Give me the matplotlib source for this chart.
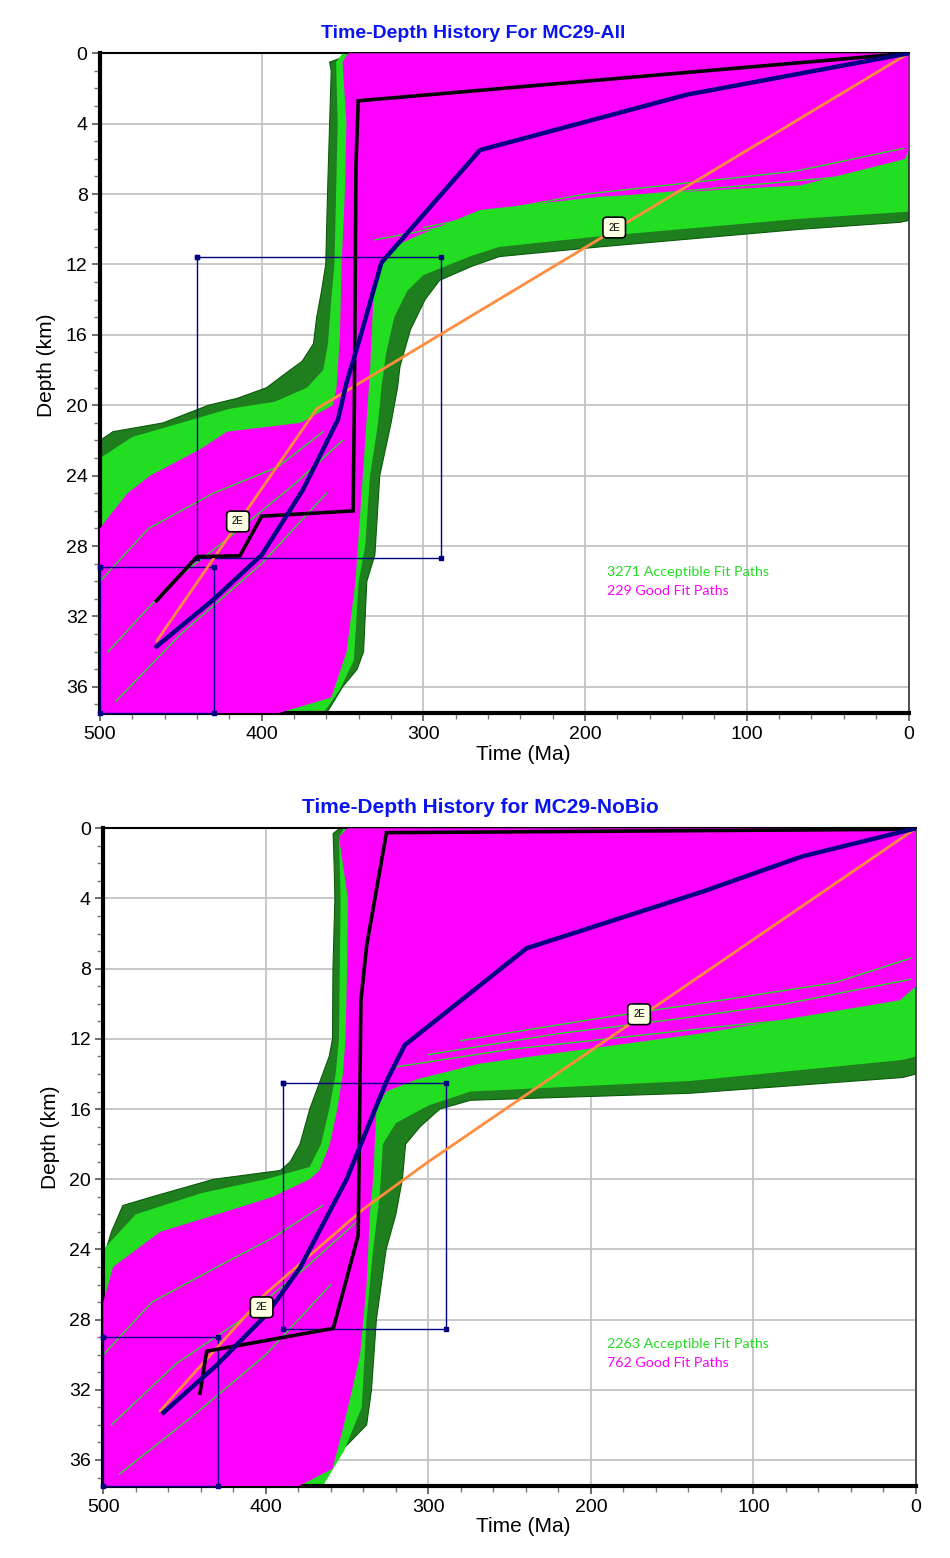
import matplotlib
matplotlib.use("Agg")
import matplotlib.pyplot as plt
from matplotlib.patches import Polygon

# Time-depth history plots for MC29 (All / NoBio)
# values, time in Ma, depth in km

# ---- panel 1: MC29-All ----
all_acc_t = [0, 347, 352, 358, 357, 358, 359.3, 360.4, 363, 366, 368, 375, 382.5, 397, 415, 433, 461, 492, 500,
             500, 360, 356.6, 350, 341, 337, 335, 330, 327, 320, 316, 314.5, 308, 299, 290, 270, 253, 191, 129, 67, 5, 0]
all_acc_d = [0, 0, 0.3, 0.5, 1.0, 4, 8, 12, 13.5, 15, 16.5, 17.5, 18, 19, 19.6, 20, 21, 21.5, 22,
             37.5, 37.5, 37, 36, 35, 34, 30, 28.5, 24, 21, 19, 17.8, 15.7, 14, 12.9, 12.1, 11.55, 11.0, 10.5, 10.0, 9.6, 9.5]

all_mid_t = [0, 350, 354, 353, 354, 355, 357, 359, 362, 372, 392, 420, 450, 480, 500,
             500, 362, 352, 343, 340, 336, 333, 328, 326, 323, 318, 310, 300, 270, 253, 191, 129, 67, 0]
all_mid_d = [0, 0, 0.5, 4, 8, 12, 14, 16.5, 18, 19, 19.8, 20.2, 21, 21.8, 23,
             37.5, 37.5, 36.2, 34.5, 30, 28, 24, 21, 19, 17, 15, 13.5, 12.6, 11.5, 11.0, 10.4, 9.9, 9.4, 9.0]

all_good_t = [0, 346.5, 350, 347.6, 348.6, 350.6, 351.6, 353.7, 356, 376, 421.5, 438, 469, 483, 496, 500,
              500, 390, 357, 347.5, 342, 339, 336, 333, 331, 327, 319, 302, 265, 191, 67, 2, 0]
all_good_d = [0, 0, 0.5, 4, 8, 12, 16, 19, 20, 21, 21.5, 22.5, 24, 25, 26.5, 27,
              37.5, 37.5, 36.6, 34, 30, 26, 22, 18, 14, 12, 11, 10.3, 8.9, 8.15, 7.5, 6.0, 5.5]

# single acceptable paths that show through the good-fit fill
all_streaks = [
    ([330, 255, 190, 130, 65, 3], [10.6, 9.3, 8.7, 8.3, 7.9, 7.2]),
    ([300, 230, 160, 100, 40, 3], [9.9, 8.6, 8.0, 7.5, 7.0, 6.3]),
    ([270, 200, 130, 70, 3], [9.2, 8.0, 7.3, 6.7, 5.4]),
    ([500, 470, 430, 390, 362], [30, 27, 25, 23.5, 21.5]),
    ([495, 455, 420, 380, 350], [34, 30, 27.5, 24.5, 22]),
    ([490, 450, 400, 360], [36.8, 33, 29, 25]),
]

all_black_t = [0, 340.3, 341.7, 342.7, 343.5, 400, 413.5, 440, 465]
all_black_d = [0, 2.7, 6.3, 20, 26.0, 26.3, 28.55, 28.6, 31.1]

all_blue_t = [0, 137, 265, 326, 339, 347.5, 352.8, 374.5, 400, 430, 465]
all_blue_d = [0, 2.35, 5.5, 11.9, 16.1, 18.7, 20.8, 24.8, 28.5, 31.05, 33.7]

all_orange_t = [0, 366, 465]
all_orange_d = [0, 20.2, 33.4]

all_boxes = [(289, 440, 11.6, 28.7), (429.5, 500, 29.2, 37.5)]
all_tags = [(182, 9.9), (414.7, 26.6)]
all_counts = ("3271 Acceptible Fit Paths", "229 Good Fit Paths")

# ---- panel 2: MC29-NoBio ----
nob_acc_t = [0, 354.5, 358.6, 358, 357.5, 358.7, 359, 361, 365, 369, 373, 379, 385, 391, 432, 470, 488, 495, 500,
             500, 373, 359, 338, 335, 332, 326, 320, 316, 314, 305, 293, 274, 139, 8, 0]
nob_acc_d = [0, 0, 0.3, 2, 4, 8, 12, 13, 14, 15, 16, 18, 19, 19.5, 20, 21, 21.5, 23, 24.5,
             37.5, 37.5, 36, 34, 32, 28, 24, 22, 20, 18, 17, 16, 15.5, 15.1, 14.2, 14.0]

nob_mid_t = [0, 352, 355, 354, 354.5, 355, 357, 361, 366, 373, 400, 440, 480, 500,
             500, 365, 352, 341, 338, 334, 330, 328, 320, 300, 274, 139, 8, 0]
nob_mid_d = [0, 0, 0.5, 4, 8, 12, 14, 16, 18, 19.3, 20, 20.8, 22, 24,
             37.5, 37.5, 35.5, 33, 28, 24, 21, 18, 16.8, 15.8, 15.0, 14.4, 13.2, 13]

nob_good_t = [0, 350, 355, 349.5, 350, 351, 352.6, 356, 360.6, 367, 373, 395.6, 430, 465, 494, 500,
              500, 380, 359, 352, 342, 338, 336, 334, 333, 332, 326, 307, 268, 133, 10, 0]
nob_good_d = [0, 0, 0.5, 4, 8, 12, 14, 16, 18, 19.5, 20, 21, 22, 23, 25, 27,
              37.5, 37.5, 36.5, 34, 30, 26, 22, 20, 18, 16, 15, 14.3, 13.4, 11.7, 9.8, 9.0]

nob_streaks = [
    ([320, 250, 180, 110, 40, 3], [13.6, 12.6, 11.9, 11.2, 10.6, 9.9]),
    ([300, 220, 150, 80, 3], [12.9, 11.7, 10.9, 10.0, 8.6]),
    ([280, 200, 120, 50, 3], [12.1, 10.9, 9.8, 8.8, 7.4]),
    ([500, 470, 430, 395, 365], [30, 27, 25, 23.3, 21.5]),
    ([495, 455, 415, 375, 345], [34, 30.5, 28, 25, 22.5]),
    ([490, 445, 400, 360], [36.8, 33.5, 30, 26]),
]

nob_black_t = [0, 325.8, 338, 341.5, 342.6, 343.2, 358.5, 436.4, 440.5]
nob_black_d = [0.05, 0.25, 6.7, 9.8, 18.8, 23.2, 28.5, 29.8, 32.2]

nob_blue_t = [0, 70, 131, 239.6, 314.5, 325.7, 350.3, 379, 399.5, 430.3, 463]
nob_blue_d = [0, 1.6, 3.6, 6.84, 12.35, 14.4, 20.0, 25.05, 27.7, 30.6, 33.3]

nob_orange_t = [0, 300, 340, 400, 465]
nob_orange_d = [0, 19.0, 21.7, 26.5, 33.2]

nob_boxes = [(289.2, 389.7, 14.5, 28.55), (429.3, 500, 29.0, 37.5)]
nob_tags = [(170.4, 10.6), (402.6, 27.3)]
nob_counts = ("2263 Acceptible Fit Paths", "762 Good Fit Paths")

W, H = 950, 1558
fig = plt.figure(figsize=(W / 100, H / 100), dpi=100)
plt.rcParams['font.family'] = ['Liberation Sans', 'DejaVu Sans']


def fx(px):
    return px / W


def fy(py):
    return 1 - py / H


def draw_panel(ax, acc, mid, good, streaks, black, blue, orange, boxes, tags):
    ax.add_patch(Polygon(list(zip(*acc)), closed=True, facecolor='#1f7f1f', edgecolor='#0b5a0b', lw=0.8, zorder=1))
    ax.add_patch(Polygon(list(zip(*mid)), closed=True, facecolor='#22dd22', edgecolor='none', zorder=2))
    ax.add_patch(Polygon(list(zip(*good)), closed=True, facecolor='#ff00ff', edgecolor='none', zorder=3))
    for st, sd in streaks:
        ax.plot(st, sd, color='#22dd22', lw=1.0, zorder=3.5)
    for t0, t1, d0, d1 in boxes:
        ax.plot([t1, t0, t0, t1, t1], [d0, d0, d1, d1, d0], color='#000080', lw=1.0, zorder=4,
                marker='s', markersize=2.5, clip_on=False)
    ax.plot(orange[0], orange[1], color='#ff8c3f', lw=2.0, zorder=5)
    ax.plot(black[0], black[1], color='black', lw=2.6, zorder=6, solid_joinstyle='miter')
    ax.plot(blue[0], blue[1], color='#000080', lw=3.2, zorder=7)
    for t, d in tags:
        ax.text(t, d, "2E", fontsize=7, ha='center', va='center', zorder=8,
                bbox=dict(boxstyle='round,pad=0.55,rounding_size=0.4', facecolor='#ffffe4', edgecolor='black', lw=1.2))

    ax.set_xlim(500, 0)
    ax.set_ylim(37.5, 0)
    ax.set_xticks([500, 400, 300, 200, 100, 0])
    ax.set_xticks(range(0, 501, 20), minor=True)
    ax.set_yticks(range(0, 37, 4))
    ax.set_yticks(range(0, 38, 1), minor=True)
    ax.grid(True, which='major', color='#c4c4c4', lw=1.3)
    ax.set_axisbelow(True)
    ax.tick_params(which='major', labelsize=14, length=6, width=1.2, color='#555555', pad=3)
    ax.tick_params(which='minor', length=4, width=1.0, color='#777777')
    for side in ['left', 'bottom']:
        ax.spines[side].set_linewidth(3)
    ax.spines['top'].set_linewidth(1.5)
    ax.spines['right'].set_linewidth(1.2)
    ax.spines['right'].set_color('#333333')


# top panel
ax1 = fig.add_axes([fx(100), fy(713.3), fx(908.5 - 100), (713.3 - 53.3) / H])
draw_panel(ax1, (all_acc_t, all_acc_d), (all_mid_t, all_mid_d), (all_good_t, all_good_d), all_streaks,
           (all_black_t, all_black_d), (all_blue_t, all_blue_d), (all_orange_t, all_orange_d),
           all_boxes, all_tags)
fig.text(fx(473), fy(33), "Time-Depth History For MC29-All", color='#0a14f0', fontsize=14,
         fontweight='bold', ha='center', va='center')
fig.text(fx(523), fy(755), "Time (Ma)", fontsize=15, ha='center', va='center')
fig.text(fx(46), fy(365), "Depth (km)", fontsize=15, ha='center', va='center', rotation=90)
fig.text(fx(606.7), fy(571.7), all_counts[0], color='#22dd22', fontsize=10.3, family='Lato', va='center')
fig.text(fx(606.7), fy(590.7), all_counts[1], color='#ff00ff', fontsize=10.3, family='Lato', va='center')

# bottom panel
ax2 = fig.add_axes([fx(103.3), fy(1486.3), fx(916 - 103.3), (1486.3 - 828.3) / H])
draw_panel(ax2, (nob_acc_t, nob_acc_d), (nob_mid_t, nob_mid_d), (nob_good_t, nob_good_d), nob_streaks,
           (nob_black_t, nob_black_d), (nob_blue_t, nob_blue_d), (nob_orange_t, nob_orange_d),
           nob_boxes, nob_tags)
fig.text(fx(480), fy(808), "Time-Depth History for MC29-NoBio", color='#0a14f0', fontsize=15,
         fontweight='bold', ha='center', va='center')
fig.text(fx(523), fy(1527), "Time (Ma)", fontsize=15, ha='center', va='center')
fig.text(fx(50), fy(1137), "Depth (km)", fontsize=15, ha='center', va='center', rotation=90)
fig.text(fx(606.7), fy(1344.3), nob_counts[0], color='#22dd22', fontsize=10.3, family='Lato', va='center')
fig.text(fx(606.7), fy(1363.3), nob_counts[1], color='#ff00ff', fontsize=10.3, family='Lato', va='center')

fig.savefig("out.png", dpi=100)
